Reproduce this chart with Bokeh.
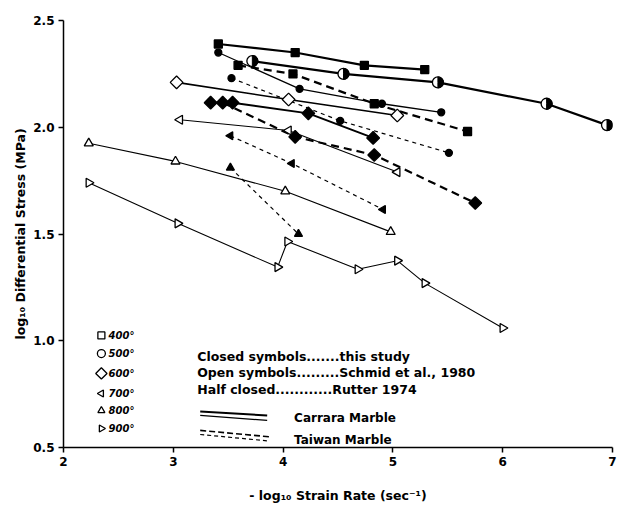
import numpy as np
from bokeh.plotting import figure
from bokeh.models import FixedTicker, PrintfTickFormatter, Label
from bokeh.embed import file_html
from bokeh.resources import INLINE

# ---- data ----
x_ticks = [2, 3, 4, 5, 6, 7]
y_ticks = [0.5, 1.0, 1.5, 2.0, 2.5]

s400_closed_solid_x = [3.41, 4.11, 4.74, 5.29]
s400_closed_solid_y = [2.39, 2.35, 2.29, 2.27]
s400_closed_dash_x = [3.59, 4.09, 4.83, 5.68]
s400_closed_dash_y = [2.29, 2.25, 2.11, 1.98]
s500_closed_solid_x = [3.41, 4.15, 4.90, 5.44]
s500_closed_solid_y = [2.35, 2.18, 2.11, 2.07]
s500_closed_dash_x = [3.53, 4.52, 5.51]
s500_closed_dash_y = [2.23, 2.03, 1.88]
s500_half_x = [3.72, 4.55, 5.41, 6.40, 6.95]
s500_half_y = [2.31, 2.25, 2.21, 2.11, 2.01]
s600_open_x = [3.03, 4.05, 5.04]
s600_open_y = [2.21, 2.13, 2.055]
s600_closed_solid_x = [3.34, 3.54, 4.23, 4.82]
s600_closed_solid_y = [2.115, 2.115, 2.065, 1.95]
s600_closed_dash_x = [3.45, 4.11, 4.83, 5.75]
s600_closed_dash_y = [2.115, 1.955, 1.87, 1.645]
s700_open_x = [3.06, 4.05, 5.04]
s700_open_y = [2.035, 1.985, 1.79]
s700_closed_x = [3.52, 4.08, 4.91]
s700_closed_y = [1.96, 1.83, 1.615]
s800_open_x = [2.23, 3.02, 4.02, 4.98]
s800_open_y = [1.925, 1.84, 1.70, 1.51]
s800_closed_x = [3.52, 4.14]
s800_closed_y = [1.81, 1.50]
s900_open_x = [2.23, 3.04, 3.95, 4.04, 4.68, 5.04, 5.29, 6.00]
s900_open_y = [1.74, 1.55, 1.345, 1.465, 1.335, 1.375, 1.27, 1.06]

temp_labels = ["400°", "500°", "600°", "700°", "800°", "900°"]
note_lines = ["Closed symbols.......this study",
              "Open symbols.........Schmid et al., 1980",
              "Half closed............Rutter 1974"]
marble_labels = ["Carrara Marble", "Taiwan Marble"]

FONT = "DejaVu Sans"
K = "black"

p = figure(width=617, height=530, x_range=(2, 7), y_range=(0.5, 2.5),
           output_backend="svg", toolbar_location=None,
           min_border_left=63, min_border_right=5, min_border_top=20, min_border_bottom=83)
p.outline_line_color = None
p.grid.visible = False
p.background_fill_color = "white"
p.border_fill_color = "white"

for ax in (p.xaxis[0], p.yaxis[0]):
    ax.axis_line_width = 1.5
    ax.major_tick_line_width = 1.5
    ax.major_tick_out = 5
    ax.major_tick_in = 0
    ax.minor_tick_line_color = None
    ax.major_label_text_font = FONT
    ax.major_label_text_font_style = "bold"
    ax.major_label_text_font_size = "12px"
    ax.major_label_text_color = K
    ax.axis_label_text_font = FONT
    ax.axis_label_text_font_style = "bold"
    ax.axis_label_text_font_size = "12.5px"
    ax.axis_label_text_color = K

p.xaxis.ticker = FixedTicker(ticks=x_ticks)
p.yaxis.ticker = FixedTicker(ticks=y_ticks)
p.xaxis.formatter = PrintfTickFormatter(format="%d")
p.yaxis.formatter = PrintfTickFormatter(format="%.1f")
p.xaxis.axis_label = "- log₁₀ Strain Rate (sec⁻¹)"
p.yaxis.axis_label = "log₁₀ Differential Stress (MPa)"
p.xaxis.axis_label_standoff = 19
p.yaxis.axis_label_standoff = 2
p.xaxis.major_label_standoff = 4
p.yaxis.major_label_standoff = 4

LEFT = np.pi / 2
RIGHT = -np.pi / 2
DIAG = np.pi / 4

# ---- series ----
def series(xs, ys, lw, dash, marker, size, filled, angle=0.0):
    p.line(xs, ys, line_color=K, line_width=lw, line_dash=dash)
    p.scatter(xs, ys, marker=marker, size=size, angle=angle,
              fill_color=K if filled else "white", line_color=K, line_width=1.3)

series(s400_closed_solid_x, s400_closed_solid_y, 2.2, "solid", "square", 8, True)
series(s400_closed_dash_x, s400_closed_dash_y, 2.2, "8 5", "square", 8, True)
series(s500_closed_solid_x, s500_closed_solid_y, 1.3, "solid", "circle", 7, True)
series(s500_closed_dash_x, s500_closed_dash_y, 1.2, "4 4", "circle", 7, True)
series(s600_open_x, s600_open_y, 1.6, "solid", "square", 9, False, DIAG)
series(s600_closed_solid_x, s600_closed_solid_y, 2.0, "solid", "square", 9, True, DIAG)
series(s600_closed_dash_x, s600_closed_dash_y, 2.2, "8 5", "square", 9, True, DIAG)
series(s700_open_x, s700_open_y, 1.1, "solid", "triangle", 9, False, LEFT)
series(s700_closed_x, s700_closed_y, 1.2, "4 4", "triangle", 8, True, LEFT)
series(s800_open_x, s800_open_y, 1.1, "solid", "triangle", 9, False)
series(s800_closed_x, s800_closed_y, 1.2, "4 4", "triangle", 8, True)
series(s900_open_x, s900_open_y, 1.1, "solid", "triangle", 9, False, RIGHT)

# half closed circles (Rutter 1974)
p.line(s500_half_x, s500_half_y, line_color=K, line_width=2.2)
p.scatter(s500_half_x, s500_half_y, marker="circle", size=11, fill_color="white",
          line_color=K, line_width=1.3)
p.wedge(s500_half_x, s500_half_y, radius=5.5, radius_units="screen",
        start_angle=-np.pi / 2, end_angle=np.pi / 2, fill_color=K, line_color=K)

# ---- symbol legend (bottom left) ----
leg_x = 2.345
leg_tx = 2.41
leg_y = [1.025, 0.94, 0.847, 0.753, 0.673, 0.589]
leg_markers = [("square", 0.0), ("circle", 0.0), ("square", DIAG),
               ("triangle", LEFT), ("triangle", 0.0), ("triangle", RIGHT)]
leg_sizes = [7, 8, 8, 7, 7, 7]
for (mk, ang), yy, sz, lab in zip(leg_markers, leg_y, leg_sizes, temp_labels):
    p.scatter([leg_x], [yy], marker=mk, angle=ang, size=sz, fill_color="white",
              line_color=K, line_width=1.3)
    p.add_layout(Label(x=leg_tx, y=yy, text=lab, text_font=FONT, text_font_size="10px",
                       text_font_style="bold italic", text_baseline="middle", text_color=K))

note_y = [0.926, 0.851, 0.772]
for yy, t in zip(note_y, note_lines):
    p.add_layout(Label(x=3.218, y=yy, text=t, text_font=FONT, text_font_size="12.5px",
                       text_font_style="bold", text_baseline="middle", text_color=K))

# marble line legend
p.line([3.245, 3.855], [0.669, 0.650], line_color=K, line_width=2.0)
p.line([3.245, 3.855], [0.650, 0.627], line_color=K, line_width=1.3)
p.line([3.245, 3.88], [0.580, 0.550], line_color=K, line_width=1.6, line_dash="6 3")
p.line([3.245, 3.88], [0.561, 0.530], line_color=K, line_width=1.2, line_dash="4 3")
for yy, t in zip([0.636, 0.533], marble_labels):
    p.add_layout(Label(x=4.10, y=yy, text=t, text_font=FONT, text_font_size="12px",
                       text_font_style="bold", text_baseline="middle", text_color=K))

open("out.html", "w").write(file_html(p, INLINE))
